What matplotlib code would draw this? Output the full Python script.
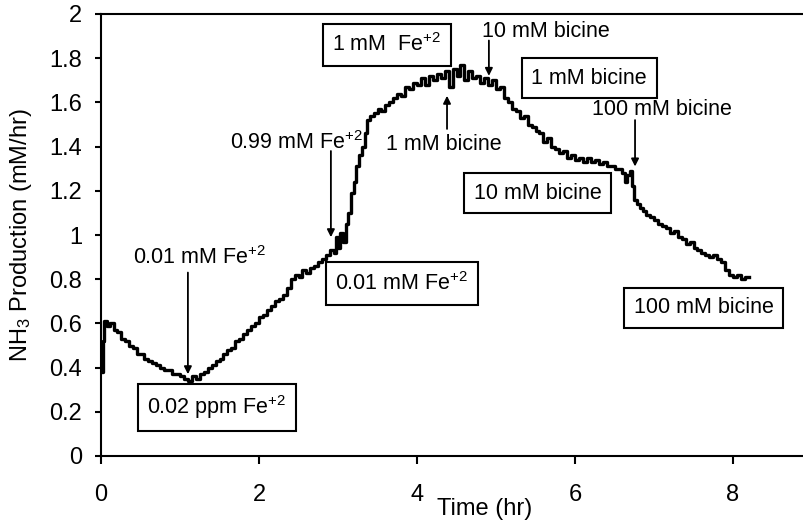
import matplotlib
matplotlib.use("Agg")
import matplotlib.pyplot as plt

plt.rcParams['font.family'] = ['Liberation Sans', 'DejaVu Sans']
plt.rcParams['mathtext.fontset'] = 'custom'
plt.rcParams['mathtext.rm'] = 'Liberation Sans'
plt.rcParams['mathtext.it'] = 'Liberation Sans:italic'
plt.rcParams['mathtext.default'] = 'regular'

# NH3 production trace
time_hr = [0.00, 0.02, 0.04, 0.08, 0.12, 0.16, 0.20, 0.25, 0.30, 0.35,
           0.40, 0.45, 0.50, 0.55, 0.60, 0.65, 0.70, 0.75, 0.80, 0.85,
           0.90, 0.95, 1.00, 1.05, 1.10, 1.15, 1.20, 1.25, 1.30, 1.35,
           1.40, 1.45, 1.50, 1.55, 1.60, 1.65, 1.70, 1.75, 1.80, 1.85,
           1.90, 1.95, 2.00, 2.05, 2.10, 2.15, 2.20, 2.25, 2.30, 2.35,
           2.40, 2.45, 2.50, 2.55, 2.60, 2.65, 2.70, 2.75, 2.80, 2.85,
           2.90, 2.95, 2.98, 3.00, 3.03, 3.06, 3.10, 3.13, 3.16, 3.20,
           3.23, 3.27, 3.30, 3.34, 3.37, 3.40, 3.45, 3.50, 3.55, 3.60,
           3.65, 3.70, 3.75, 3.80, 3.85, 3.90, 3.95, 4.00, 4.05, 4.10,
           4.15, 4.20, 4.25, 4.30, 4.35, 4.40, 4.45, 4.50, 4.55, 4.60,
           4.65, 4.70, 4.75, 4.80, 4.85, 4.90, 4.95, 5.00, 5.05, 5.10,
           5.15, 5.20, 5.25, 5.30, 5.35, 5.40, 5.45, 5.50, 5.55, 5.60,
           5.65, 5.70, 5.75, 5.80, 5.85, 5.90, 5.95, 6.00, 6.05, 6.10,
           6.15, 6.20, 6.25, 6.30, 6.35, 6.40, 6.45, 6.50, 6.55, 6.60,
           6.63, 6.66, 6.70, 6.72, 6.75, 6.78, 6.82, 6.86, 6.90, 6.95,
           7.00, 7.05, 7.10, 7.15, 7.20, 7.25, 7.30, 7.35, 7.40, 7.45,
           7.50, 7.55, 7.60, 7.65, 7.70, 7.75, 7.80, 7.85, 7.90, 7.95,
           8.00, 8.05, 8.10, 8.15, 8.20]
nh3_rate = [0.38, 0.52, 0.61, 0.59, 0.60, 0.57, 0.56, 0.53, 0.52, 0.50,
            0.49, 0.46, 0.46, 0.44, 0.43, 0.42, 0.41, 0.40, 0.39, 0.39,
            0.37, 0.37, 0.36, 0.35, 0.34, 0.36, 0.35, 0.37, 0.38, 0.40,
            0.41, 0.43, 0.44, 0.46, 0.48, 0.49, 0.52, 0.53, 0.55, 0.57,
            0.59, 0.60, 0.63, 0.64, 0.66, 0.68, 0.70, 0.71, 0.73, 0.76,
            0.80, 0.82, 0.81, 0.84, 0.83, 0.85, 0.86, 0.88, 0.89, 0.91,
            0.93, 0.92, 0.99, 0.94, 1.01, 0.97, 1.05, 1.10, 1.19, 1.24,
            1.31, 1.36, 1.40, 1.46, 1.52, 1.54, 1.55, 1.57, 1.56, 1.59,
            1.60, 1.62, 1.64, 1.63, 1.67, 1.66, 1.69, 1.68, 1.71, 1.68,
            1.72, 1.70, 1.73, 1.71, 1.74, 1.67, 1.75, 1.72, 1.77, 1.70,
            1.74, 1.71, 1.72, 1.69, 1.71, 1.68, 1.70, 1.66, 1.67, 1.62,
            1.60, 1.57, 1.56, 1.53, 1.54, 1.50, 1.49, 1.47, 1.46, 1.42,
            1.44, 1.40, 1.39, 1.37, 1.38, 1.35, 1.36, 1.34, 1.35, 1.33,
            1.35, 1.33, 1.34, 1.32, 1.33, 1.31, 1.31, 1.30, 1.30, 1.28,
            1.24, 1.27, 1.29, 1.22, 1.16, 1.14, 1.12, 1.11, 1.09, 1.08,
            1.07, 1.05, 1.04, 1.03, 1.01, 1.02, 0.99, 0.98, 0.96, 0.97,
            0.94, 0.93, 0.92, 0.91, 0.90, 0.91, 0.89, 0.88, 0.84, 0.82,
            0.81, 0.82, 0.80, 0.81, 0.81]

x_ticks = [0, 2, 4, 6, 8]
y_ticks = [0, 0.2, 0.4, 0.6, 0.8, 1, 1.2, 1.4, 1.6, 1.8, 2]

# arrow labels: text, text centre, arrow tail, arrow tip
arrow_labels = ['0.01 mM Fe$^{+2}$', '0.99 mM Fe$^{+2}$', '1 mM bicine',
                '10 mM bicine', '100 mM bicine']
arrow_text_xy = [(1.25, 0.90), (2.48, 1.42), (4.34, 1.41), (5.63, 1.92), (7.10, 1.57)]
arrow_tail = [(1.10, 0.83), (2.91, 1.38), (4.38, 1.48), (4.91, 1.88), (6.76, 1.52)]
arrow_tip = [(1.10, 0.37), (2.91, 0.99), (4.38, 1.63), (4.91, 1.72), (6.76, 1.31)]

# boxed labels
box_labels = ['0.02 ppm Fe$^{+2}$', '0.01 mM Fe$^{+2}$', '1 mM  Fe$^{+2}$',
              '1 mM bicine', '10 mM bicine', '100 mM bicine']
box_xy = [(1.47, 0.22), (3.81, 0.78), (3.62, 1.86), (6.18, 1.71), (5.53, 1.19), (7.63, 0.67)]

fig = plt.figure(figsize=(8.04, 5.25), dpi=100)
ax = fig.add_axes([101/804, 69/525, 703/804, 442/525])

ax.plot(time_hr, nh3_rate, color='black', lw=2.4, drawstyle='steps-post')

ax.set_xlim(0, 703/79)
ax.set_ylim(0, 2)
ax.set_xticks(x_ticks)
ax.set_yticks(y_ticks)
ax.set_yticklabels([('%g' % v) for v in y_ticks])
ax.tick_params(axis='x', direction='out', length=5.5, width=1.5, pad=15, labelsize=17)
ax.tick_params(axis='y', direction='out', length=4.5, width=1.5, pad=9, labelsize=17)
ax.spines['right'].set_visible(False)
for s in ['left', 'bottom', 'top']:
    ax.spines[s].set_linewidth(1.5)

ax.set_ylabel('NH$_3$ Production (mM/hr)', fontsize=17)
ax.yaxis.set_label_coords(-0.095, 0.5)
ax.set_xlabel('Time (hr)', fontsize=17)
ax.xaxis.set_label_coords(0.546, -0.095)

for lab, txy, tail, tip in zip(arrow_labels, arrow_text_xy, arrow_tail, arrow_tip):
    ax.text(txy[0], txy[1], lab, fontsize=15.5, ha='center', va='center')
    ax.annotate('', xy=tip, xytext=tail,
                arrowprops=dict(arrowstyle='-|>', color='black', lw=1.3,
                                mutation_scale=11, shrinkA=0, shrinkB=0))

for lab, bxy in zip(box_labels, box_xy):
    ax.text(bxy[0], bxy[1], lab, fontsize=15.5, ha='center', va='center',
            bbox=dict(boxstyle='square,pad=0.45', fc='white', ec='black', lw=1.5))

fig.savefig('out.png', dpi=100)
